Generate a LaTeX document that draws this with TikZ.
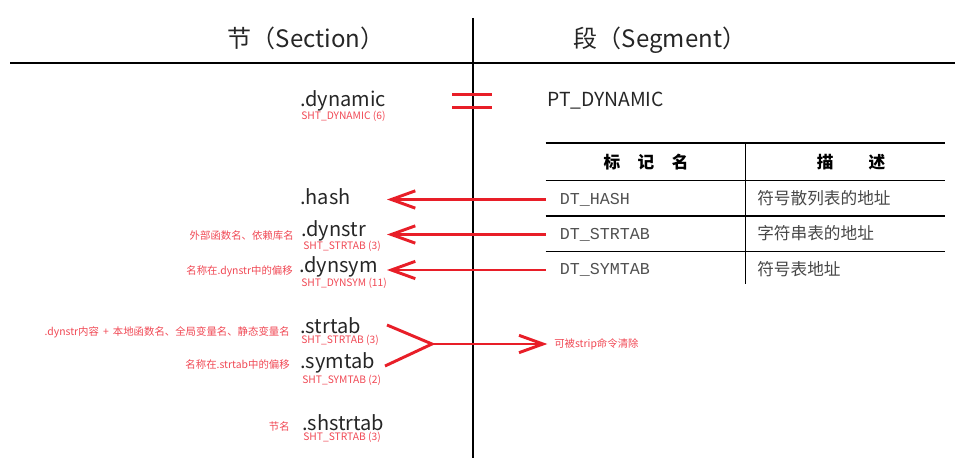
\documentclass[tikz,border=0pt]{standalone}
\usepackage{fontspec}
\setmainfont{Noto Sans CJK SC}
\newfontfamily\monofnt{Liberation Mono}
\usetikzlibrary{arrows.meta}
\definecolor{linered}{RGB}{232,30,40}
\definecolor{notered}{RGB}{240,72,84}
\definecolor{ink}{RGB}{38,38,38}
\tikzset{
  title/.style={font=\fontsize{18}{20}\selectfont,text=ink},
  secname/.style={anchor=west,font=\fontsize{15}{16}\selectfont,text=ink},
  sectype/.style={anchor=west,font=\fontsize{7.7}{8}\selectfont,text=notered},
  note/.style={anchor=east,font=\fontsize{7.8}{8}\selectfont,text=notered},
  cellname/.style={anchor=west,inner xsep=10.5pt,font=\monofnt\fontsize{12.5}{13}\selectfont,text=ink!80},
  celldesc/.style={anchor=west,inner xsep=0pt,font=\fontsize{12.5}{13}\selectfont,text=ink!85},
  redline/.style={draw=linered,line width=2.2pt},
  redarrow/.style={redline,-{Straight Barb[length=18pt,width=13pt]}},
}
\begin{document}
\begin{tikzpicture}[x=0.75pt,y=-0.75pt,line cap=butt,every node/.style={inner sep=0pt}]
  \useasboundingbox (0,0) rectangle (969,466);
  % frame of the two columns
  \draw[line width=1pt] (473,18) -- (473,458);
  \draw[line width=1pt] (10,63) -- (955,63);
  \node[title] (sec) at (306,38) {节（Section）};
  \node[title] (seg) at (660,40) {段（Segment）};

  % sections
  \node[secname] (dynamic) at (300,101) {.dynamic};
  \node[sectype] (dynamict) at (301,116) {SHT\_DYNAMIC (6)};
  \node[secname] (hash) at (300,197) {.hash};
  \node[secname] (dynstr) at (301,231) {.dynstr};
  \node[sectype] (dynstrt) at (303,246) {SHT\_STRTAB (3)};
  \node[secname] (dynsym) at (299,267) {.dynsym};
  \node[sectype] (dynsymt) at (301,283.5) {SHT\_DYNSYM (11)};
  \node[secname] (strtab) at (300,326) {.strtab};
  \node[sectype] (strtabt) at (301,340) {SHT\_STRTAB (3)};
  \node[secname] (symtab) at (300,363) {.symtab};
  \node[sectype] (symtabt) at (302,380.5) {SHT\_SYMTAB (2)};
  \node[secname] (shstrtab) at (302,423) {.shstrtab};
  \node[sectype] (shstrtabt) at (303,437) {SHT\_STRTAB (3)};

  % notes on the left
  \node[note] (n1) at (294,236) {外部函数名、依赖库名};
  \node[note] (n2) at (293,271) {名称在.dynstr中的偏移};
  \node[note] (n3) at (290,332) {.dynstr内容 \,+\, 本地函数名、全局变量名、静态变量名};
  \node[note] (n4) at (290,365) {名称在.strtab中的偏移};
  \node[note] (n5) at (290,427) {节名};

  % segment side
  \node[anchor=west,font=\fontsize{14.5}{16}\selectfont,text=ink] (ptdyn) at (547,101) {PT\_DYNAMIC};
  \draw[redline] (452,94.5) -- (491.5,94.5);
  \draw[redline] (452,107.3) -- (491.5,107.3);

  % table of dynamic entries
  \def\tl{545.5}
  \def\tm{745.3}
  \def\tr{945}
  \draw[line width=1.6pt] (\tl,143) -- (\tr,143);
  \foreach \yy in {180.2,216,251.4}{
    \draw[line width=0.8pt] (\tl,\yy) -- (\tr,\yy);
  }
  \draw[line width=0.8pt] (\tm,143) -- (\tm,284);
  \node[font=\bfseries\fontsize{12.5}{13}\selectfont] (hname) at (646,162.5) {标\hspace{1.05em}记\hspace{1.05em}名};
  \node[font=\bfseries\fontsize{12.5}{13}\selectfont] (hdesc) at (851,162.5) {描\hspace{2.1em}述};
  \node[cellname] (dthash) at (\tl,199.5) {DT\_HASH};
  \node[cellname] (dtstr) at (\tl,234.5) {DT\_STRTAB};
  \node[cellname] (dtsym) at (\tl,270) {DT\_SYMTAB};
  \node[celldesc] (dhash) at (757,198.5) {符号散列表的地址};
  \node[celldesc] (dstr) at (757,233.5) {字符串表的地址};
  \node[celldesc] (dsym) at (757,269) {符号表地址};

  % pointers from the table to the sections
  \coordinate (tipx) at (387,0);
  \draw[redarrow] (dthash.west) -- (dthash.west -| tipx);
  \draw[redarrow] (dtstr.west) -- (dtstr.west -| tipx);
  \draw[redarrow] (dtsym.west) -- (dtsym.west -| tipx);

  % strtab + symtab can be stripped
  \coordinate (stin) at (387,325);
  \coordinate (syin) at (385,366);
  \coordinate (join) at (432,344);
  \node[anchor=west,font=\fontsize{7.8}{8}\selectfont,text=notered] (strip) at (554,344) {可被strip命令清除};
  \draw[redline,line join=miter] (stin) -- (join) -- (syin);
  \draw[redarrow,shorten >=5pt] (join) -- (strip.west);
\end{tikzpicture}
\end{document}
